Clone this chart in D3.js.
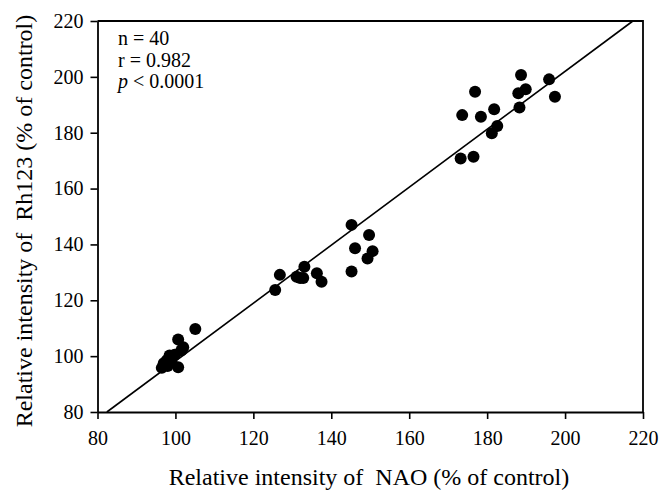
<!DOCTYPE html>
<html>
<head>
<meta charset="utf-8">
<script src="https://cdn.jsdelivr.net/npm/d3@7"></script>
<style>
  body { margin: 0; background: #fff; }
  text { font-family: "Liberation Serif", "Times New Roman", serif; fill: #000; }
  .title { white-space: pre; }
</style>
</head>
<body>
<div id="chart"></div>
<script>
// NAO (x) vs Rh123 (y), % of control
var naoValues = [
    105.1, 100.7, 102.0, 101.5, 99.8, 98.5, 97.8, 97.0, 96.5, 100.7, 99.0, 98.0,
    125.6, 126.8, 131.1, 132.0, 132.8, 133.1, 136.3, 137.5,
    145.2, 149.7, 146.1, 150.6, 149.3, 145.2,
    176.9, 188.7, 195.9, 189.9, 188.0, 197.4, 173.6, 178.4, 181.8, 188.3, 182.6, 181.2, 173.2, 176.5
];
var rh123Values = [
    109.7, 106.0, 103.2, 102.0, 100.5, 100.2, 98.5, 97.5, 95.8, 96.0, 98.0, 96.5,
    123.7, 129.1, 128.4, 128.0, 128.0, 132.0, 129.7, 126.6,
    147.0, 143.4, 138.6, 137.6, 135.0, 130.3,
    194.7, 200.7, 199.1, 195.6, 194.1, 192.9, 186.3, 185.7, 188.4, 189.0, 182.4, 179.8, 170.8, 171.4
];
var tickValues = [80, 100, 120, 140, 160, 180, 200, 220];
var fitSlope = 1.037,
    fitIntercept = -5.45;
var statLines = ["n = 40", "r = 0.982", "p < 0.0001"];

var width = 659,
    height = 493;

var x = d3.scaleLinear().domain([80, 220]).range([97.5, 643]);
var y = d3.scaleLinear().domain([80, 220]).range([412, 21]);

var svg = d3.select('#chart')
    .append('svg')
    .attr('width', width)
    .attr('height', height);

// frame (top and right)
svg.append('path')
    .attr('d', `M${x(80)},${y(220)}H${x(220)}V${y(80)}`)
    .attr('fill', 'none')
    .attr('stroke', '#000')
    .attr('stroke-width', 1.8);

var xAxis = svg.append('g')
    .attr('transform', `translate(0,${y(80)})`)
    .call(d3.axisBottom(x).tickValues(tickValues).tickSize(7).tickPadding(12).tickSizeOuter(0));

var yAxis = svg.append('g')
    .attr('transform', `translate(${x(80)},0)`)
    .call(d3.axisLeft(y).tickValues(tickValues).tickSize(7).tickPadding(7).tickSizeOuter(0));

[xAxis, yAxis].forEach(function (a) {
    a.select('.domain').attr('stroke-width', 1.8);
    a.selectAll('.tick line').attr('stroke-width', 1.6);
    a.selectAll('.tick text')
        .style('font-family', '"Liberation Serif", serif')
        .style('font-size', '20px')
        .attr('fill', '#000');
});

// regression line
var x0 = (80 - fitIntercept) / fitSlope,
    x1 = (220 - fitIntercept) / fitSlope;
svg.append('line')
    .attr('x1', x(x0))
    .attr('y1', y(80))
    .attr('x2', x(x1))
    .attr('y2', y(220))
    .attr('stroke', '#000')
    .attr('stroke-width', 1.6);

svg.append('g')
    .selectAll('circle')
    .data(naoValues)
    .enter()
    .append('circle')
    .attr('cx', d => x(d))
    .attr('cy', (d, i) => y(rh123Values[i]))
    .attr('r', 6)
    .attr('fill', '#000');

// stats
var stats = svg.append('g').style('font-size', '20px');
statLines.forEach(function (s, i) {
    var t = stats.append('text')
        .attr('x', 118)
        .attr('y', 45 + i * 21.5);
    if (s[0] === 'p') {
        t.append('tspan').style('font-style', 'italic').text('p');
        t.append('tspan').text(s.slice(1));
    } else {
        t.text(s);
    }
});

svg.append('text')
    .attr('class', 'title')
    .attr('x', 369)
    .attr('y', 485)
    .attr('text-anchor', 'middle')
    .style('font-size', '24px')
    .text('Relative intensity of  NAO (% of control)');

svg.append('text')
    .attr('class', 'title')
    .attr('transform', 'translate(32,221) rotate(-90)')
    .attr('text-anchor', 'middle')
    .style('font-size', '24px')
    .text('Relative intensity of  Rh123 (% of control)');
</script>
</body>
</html>
